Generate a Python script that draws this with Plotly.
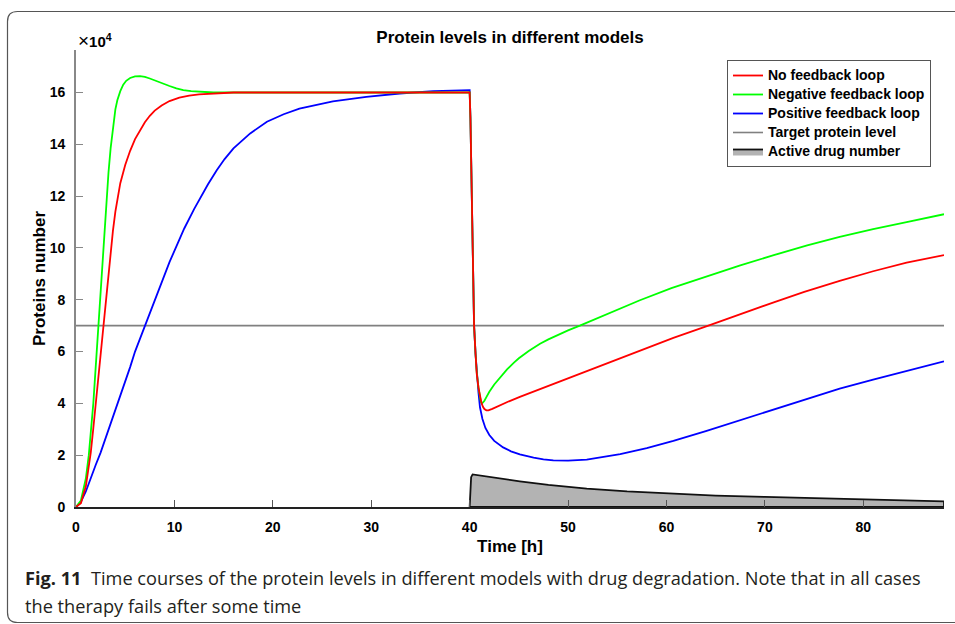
import plotly.graph_objects as go

# ---------------- data (protein numbers in units of 10^4, time in hours) ----------------
t_red = [0, 0.5, 1.0, 1.25, 1.5, 1.75, 2.0, 2.25, 2.5, 2.75, 3.0, 3.25, 3.5, 3.75, 4.0, 4.25, 4.5, 5.0, 5.5, 6.0,
         6.5, 7.0, 7.5, 8.0, 8.7, 9.5, 10.5, 11.5, 12.5, 14.0, 16.0, 20.0, 30.0, 40.0,
         40.08, 40.15, 40.21, 40.3, 40.45, 40.6, 40.72, 40.9, 41.06, 41.2, 41.35, 41.5, 41.7, 41.9, 42.3, 43.0, 44.0,
         45.1, 46.0, 47.15, 48.5, 50.0, 51.9, 53.9, 57.0, 60.7, 64.4, 67.0, 70.9, 74.0, 77.6, 81.0, 84.4, 88.2]
v_red = [0, 0.15, 0.8, 1.4, 2.1, 3.0, 3.95, 4.9, 5.9, 6.85, 7.85, 8.85, 9.8, 10.65, 11.4, 12.0, 12.5, 13.2, 13.75, 14.2,
         14.55, 14.85, 15.1, 15.3, 15.5, 15.67, 15.8, 15.88, 15.93, 15.97, 16.0, 16.0, 16.0, 16.0,
         15.0, 13.2, 11.3, 9.3, 7.0, 5.9, 5.15, 4.6, 4.25, 4.02, 3.87, 3.78, 3.73, 3.73, 3.79, 3.92, 4.08,
         4.25, 4.38, 4.55, 4.75, 4.98, 5.26, 5.55, 6.0, 6.53, 7.02, 7.38, 7.9, 8.3, 8.73, 9.1, 9.43, 9.72]

t_green = [0, 0.5, 1.0, 1.3, 1.76, 2.1, 2.44, 2.78, 3.12, 3.3, 3.52, 3.7, 3.86, 4.0, 4.2, 4.5, 4.8, 5.1, 5.5, 6.0,
           6.5, 7.0, 7.5, 8.0, 8.7, 9.5, 10.2, 10.9, 11.7, 12.9, 14.0, 20.0, 30.0, 40.0,
           40.08, 40.15, 40.21, 40.3, 40.45, 40.6, 40.72, 40.9, 41.05, 41.15, 41.25, 41.35, 41.5, 41.7, 42.0, 42.5,
           43.0, 43.8, 44.5, 45.0, 46.0, 47.15, 48.0, 49.0, 50.0, 51.2, 54.0, 57.3, 60.5, 64.1, 67.5, 70.9, 74.3,
           77.6, 81.0, 84.4, 88.2]
v_green = [0, 0.25, 1.1, 2.0, 4.0, 6.0, 8.0, 10.0, 11.9, 12.9, 13.85, 14.5, 15.0, 15.35, 15.7, 16.05, 16.3, 16.45, 16.56, 16.62,
           16.63, 16.6, 16.54, 16.46, 16.36, 16.25, 16.16, 16.09, 16.05, 16.02, 16.0, 16.0, 16.0, 16.0,
           15.0, 13.2, 11.3, 9.3, 7.0, 5.9, 5.2, 4.6, 4.2, 4.04, 3.99, 4.02, 4.1, 4.24, 4.45, 4.73,
           4.97, 5.31, 5.57, 5.74, 6.02, 6.3, 6.47, 6.65, 6.82, 7.0, 7.45, 7.98, 8.45, 8.91, 9.33, 9.72, 10.1,
           10.43, 10.73, 11.0, 11.3]

t_blue = [0, 0.5, 1.0, 1.5, 2.0, 2.5, 3.0, 3.5, 4.0, 4.5, 5.0, 5.5, 6.0, 6.5, 7.0, 7.5, 8.0, 8.7, 9.5, 10.3,
          11.0, 12.0, 12.56, 13.4, 14.3, 15.1, 16.0, 17.7, 19.4, 21.1, 22.7, 24.4, 26.1, 29.5, 32.9, 36.3, 40.0,
          40.08, 40.15, 40.21, 40.3, 40.45, 40.6, 40.72, 40.9, 41.05, 41.3, 41.6, 42.0, 42.5, 43.4, 44.2, 45.1,
          46.5, 47.5, 48.5, 50.0, 51.9, 53.9, 55.3, 58.0, 60.7, 64.0, 67.5, 71.0, 74.3, 77.6, 81.0, 84.4, 88.2]
v_blue = [0, 0.2, 0.6, 1.15, 1.62, 2.1, 2.65, 3.2, 3.72, 4.25, 4.8, 5.4, 6.0, 6.5, 7.0, 7.5, 8.0, 8.7, 9.45, 10.15,
          10.75, 11.5, 11.9, 12.45, 13.0, 13.43, 13.84, 14.42, 14.87, 15.16, 15.38, 15.53, 15.66, 15.83, 15.96, 16.05, 16.09,
          15.0, 13.2, 11.3, 9.3, 7.0, 5.9, 5.2, 4.4, 3.85, 3.4, 3.05, 2.78, 2.55, 2.3, 2.15, 2.03,
          1.91, 1.84, 1.8, 1.79, 1.83, 1.95, 2.04, 2.27, 2.55, 2.93, 3.35, 3.77, 4.18, 4.57, 4.92, 5.25, 5.62]

target_level = 7.0
t_span = [0, 88.2]

t_drug = [40.0, 40.05, 40.15, 40.3, 41.0, 42.0, 45.1, 48.0, 51.9, 56.0, 61.4, 65.0, 70.0, 73.6, 78.0, 83.7, 88.2, 88.2, 40.0]
v_drug = [0, 0.7, 1.15, 1.26, 1.22, 1.16, 0.99, 0.85, 0.71, 0.6, 0.49, 0.44, 0.39, 0.36, 0.31, 0.26, 0.22, 0, 0]

x_ticks = [0, 10, 20, 30, 40, 50, 60, 70, 80]
y_ticks = [0, 2, 4, 6, 8, 10, 12, 14, 16]
y_max = 17.64

caption_line1 = "<b>Fig. 11</b>  Time courses of the protein levels in different models with drug degradation. Note that in all cases"
caption_line2 = "the therapy fails after some time"

# ---------------- layout geometry ----------------
W, H = 955, 624
ML, MR, MT, MB = 76, 11, 50, 117
PW, PH = W - ML - MR, H - MT - MB

def px(x):
    return (x - ML) / PW

def py(y):
    return (H - MB - y) / PH

FONT = "Liberation Sans, Arial, sans-serif"
CAP_FONT = "Open Sans, sans-serif"

def legend_name(s):
    return f"<span style='font-size:14px'>{s}</span>"

fig = go.Figure()

fig.add_trace(go.Scatter(x=t_drug, y=v_drug, mode="lines", fill="toself", fillcolor="#b3b3b3",
                         line=dict(color="#111111", width=1.8), name=legend_name("Active drug number"), legendrank=5))
fig.add_trace(go.Scatter(x=t_span, y=[target_level, target_level], mode="lines",
                         line=dict(color="#808080", width=1.6), name=legend_name("Target protein level"), legendrank=4))
fig.add_trace(go.Scatter(x=t_blue, y=v_blue, mode="lines", line=dict(color="#0000ff", width=1.8),
                         name=legend_name("Positive feedback loop"), legendrank=3))
fig.add_trace(go.Scatter(x=t_green, y=v_green, mode="lines", line=dict(color="#00ff00", width=1.8),
                         name=legend_name("Negative feedback loop"), legendrank=2))
fig.add_trace(go.Scatter(x=t_red, y=v_red, mode="lines", line=dict(color="#ff0000", width=1.8),
                         name=legend_name("No feedback loop"), legendrank=1))

r = 10
x0, y0, x1, y1 = 7.5, 11.5, 990, 622.5
path = (f"M {px(x1)},{py(y0)} L {px(x0 + r)},{py(y0)} Q {px(x0)},{py(y0)} {px(x0)},{py(y0 + r)} "
        f"L {px(x0)},{py(y1 - r)} Q {px(x0)},{py(y1)} {px(x0 + r)},{py(y1)} L {px(x1)},{py(y1)}")

fig.update_layout(
    width=W, height=H,
    margin=dict(l=ML, r=MR, t=MT, b=MB, autoexpand=False),
    paper_bgcolor="white", plot_bgcolor="white",
    font=dict(family=FONT, color="black"),
    title=dict(text="Protein levels in different models", x=px(510), xref="paper", xanchor="center",
               y=1 - 37 / H, yref="container", yanchor="middle",
               font=dict(size=17, weight="bold", family=FONT, color="black")),
    showlegend=True,
    legend=dict(x=px(727), y=py(60), xanchor="left", yanchor="top", bgcolor="white",
                bordercolor="#555555", borderwidth=1, font=dict(size=12, weight="bold", family=FONT),
                tracegroupgap=0, itemwidth=30),
    xaxis=dict(range=t_span, tickvals=x_ticks, ticks="inside", ticklen=7, tickcolor="#555555",
               showline=True, linecolor="#222222", linewidth=2, showgrid=False, zeroline=False,
               tickfont=dict(size=14, weight="bold", family=FONT), ticklabelstandoff=6,
               title=dict(text="Time [h]", font=dict(size=17, weight="bold", family=FONT), standoff=6)),
    yaxis=dict(range=[0, y_max], tickvals=y_ticks, ticks="inside", ticklen=7, tickcolor="#888888",
               showline=True, linecolor="#888888", linewidth=1.6, showgrid=False, zeroline=False,
               tickfont=dict(size=14, weight="bold", family=FONT), ticklabelstandoff=6,
               title=dict(text="Proteins number", font=dict(size=17, weight="bold", family=FONT), standoff=0)),
    shapes=[dict(type="path", xref="paper", yref="paper", path=path, line=dict(color="#555555", width=1.2))],
    annotations=[
        dict(text="<span style='font-size:19px'>×</span><b>10<sup>4</sup></b>", x=px(76), y=py(40), xref="paper",
             yref="paper", xanchor="left", yanchor="middle", showarrow=False,
             font=dict(size=15, family=FONT, color="black")),
        dict(text=caption_line1, x=px(23), y=py(578), xref="paper", yref="paper", xanchor="left",
             yanchor="middle", showarrow=False, font=dict(size=18.2, family=CAP_FONT, color="#231f20")),
        dict(text=caption_line2, x=px(23), y=py(606), xref="paper", yref="paper", xanchor="left",
             yanchor="middle", showarrow=False, font=dict(size=18.2, family=CAP_FONT, color="#231f20")),
    ],
)

fig.write_html("out.html")
